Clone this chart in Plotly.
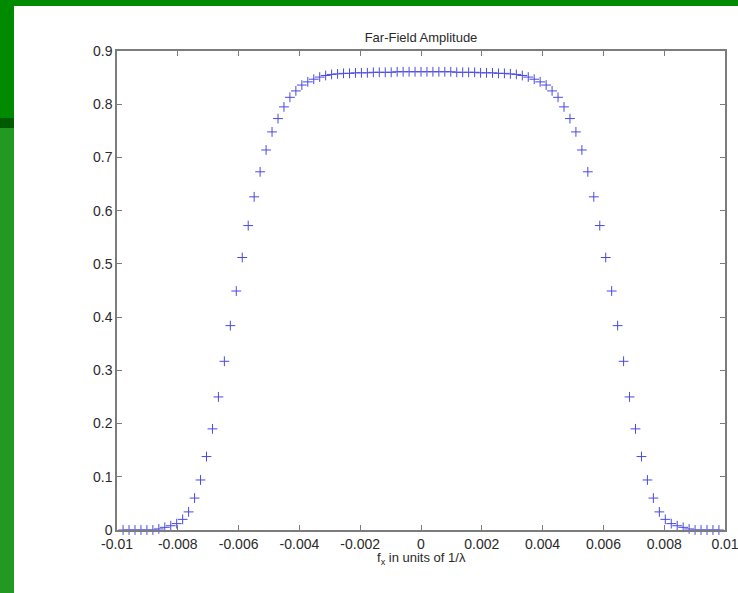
import plotly.graph_objects as go

# sampling grid of spatial frequency (units of 1/lambda)
x_start = -0.0098
x_step = 0.000196
n_points = 101
fx = [x_start + i * x_step for i in range(n_points)]

amplitude = [
    0, 0, 0, 0, 0, 0, 0.002, 0.005, 0.008, 0.012,
    0.020, 0.034, 0.060, 0.094, 0.138, 0.190, 0.250, 0.317, 0.384, 0.449,
    0.512, 0.572, 0.626, 0.673, 0.714, 0.748, 0.773, 0.795, 0.813, 0.825,
    0.836, 0.842, 0.847, 0.851, 0.854, 0.856, 0.857, 0.858, 0.858, 0.859,
    0.859, 0.859, 0.860, 0.860, 0.860, 0.860, 0.861, 0.861, 0.861, 0.861,
    0.861,
    0.861, 0.861, 0.861, 0.861, 0.861, 0.860, 0.860, 0.860, 0.860, 0.859,
    0.859, 0.859, 0.858, 0.858, 0.857, 0.856, 0.854, 0.851, 0.847, 0.842,
    0.836, 0.825, 0.813, 0.795, 0.773, 0.748, 0.714, 0.673, 0.626, 0.572,
    0.512, 0.449, 0.384, 0.317, 0.250, 0.190, 0.138, 0.094, 0.060, 0.034,
    0.020, 0.012, 0.008, 0.005, 0.002, 0, 0, 0, 0, 0, 0,
]

x_tickvals = [-0.01, -0.008, -0.006, -0.004, -0.002, 0, 0.002, 0.004, 0.006, 0.008, 0.01]
x_ticktext = ["-0.01", "-0.008", "-0.006", "-0.004", "-0.002", "0", "0.002", "0.004", "0.006", "0.008", "0.01"]
y_tickvals = [0, 0.1, 0.2, 0.3, 0.4, 0.5, 0.6, 0.7, 0.8, 0.9]
y_ticktext = ["0", "0.1", "0.2", "0.3", "0.4", "0.5", "0.6", "0.7", "0.8", "0.9"]

W, H = 738, 593
L, R, T, B = 117, 725, 51, 530
pw, ph = R - L, B - T


def px_x(p):
    return (p - L) / pw


def px_y(p):
    return (B - p) / ph


FONT = "Liberation Sans, Arial, sans-serif"

fig = go.Figure()
fig.add_trace(go.Scatter(
    x=fx, y=amplitude, mode="markers",
    marker=dict(symbol="cross-thin", size=7, line=dict(width=1, color="#4a4ade"), color="#4a4ade"),
    showlegend=False, cliponaxis=False,
))

axis_common = dict(
    showgrid=False, zeroline=False, showline=True, linecolor="#7c7c7c", linewidth=1.5,
    mirror="ticks", ticks="inside", ticklen=5, tickcolor="#7c7c7c", tickwidth=1,
    tickfont=dict(family=FONT, size=14, color="#2a2a2a"),
    automargin=False, ticklabeloverflow="allow",
)

fig.update_xaxes(range=[-0.01, 0.01], tickmode="array", tickvals=x_tickvals, ticktext=x_ticktext, **axis_common)
fig.update_yaxes(range=[0, 0.9], tickmode="array", tickvals=y_tickvals, ticktext=y_ticktext, **axis_common)

shapes = [
    dict(type="rect", xref="paper", yref="paper", x0=px_x(0), x1=px_x(W), y0=px_y(0), y1=px_y(6),
         fillcolor="#008a00", line=dict(width=0), layer="below"),
    dict(type="rect", xref="paper", yref="paper", x0=px_x(0), x1=px_x(14), y0=px_y(0), y1=px_y(H),
         fillcolor="#008a00", line=dict(width=0), layer="below"),
    dict(type="rect", xref="paper", yref="paper", x0=px_x(0), x1=px_x(14), y0=px_y(118), y1=px_y(128),
         fillcolor="#005a00", line=dict(width=0), layer="below"),
    dict(type="rect", xref="paper", yref="paper", x0=px_x(0), x1=px_x(14), y0=px_y(128), y1=px_y(H),
         fillcolor="#229a22", line=dict(width=0), layer="below"),
]

fig.update_layout(
    width=W, height=H, autosize=False,
    margin=dict(l=L, r=W - R, t=T, b=H - B, autoexpand=False),
    paper_bgcolor="white", plot_bgcolor="white",
    shapes=shapes,
    title=dict(text="Far-Field Amplitude", x=421 / W, xanchor="center",
               y=1 - 37 / H, yanchor="middle",
               font=dict(family=FONT, size=13, color="#2a2a2a")),
    annotations=[
        dict(text="f<sub>x</sub> in units of 1/λ", xref="paper", yref="paper",
             x=0.5, y=px_y(558), xanchor="center", yanchor="middle", showarrow=False,
             font=dict(family=FONT, size=13, color="#2a2a2a")),
    ],
)

fig.write_html("out.html", config={"responsive": False})
